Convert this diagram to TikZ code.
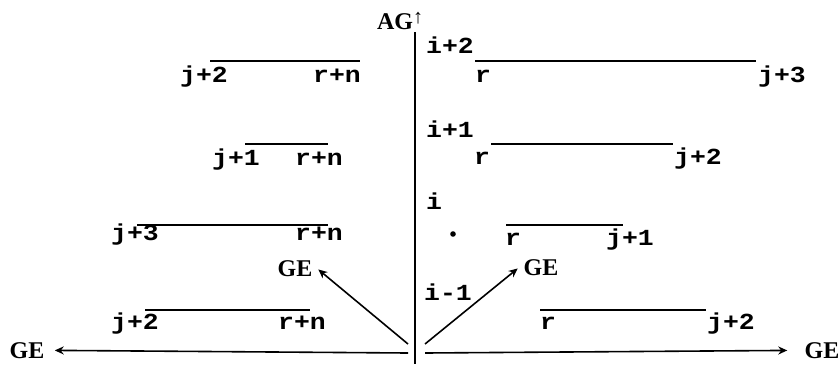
\documentclass[tikz,border=0pt]{standalone}
\usepackage{fontspec}
\newfontfamily\tyfont[FakeStretch=1.15]{Liberation Mono}
\newfontfamily\gefont{Liberation Serif}
\usetikzlibrary{arrows.meta}

\begin{document}
\begin{tikzpicture}[
        x=0.5pt, y=-0.5pt,
        lbl/.style={font=\tyfont\bfseries\fontsize{11.5}{13}\selectfont, inner sep=0pt, anchor=base},
        axlbl/.style={font=\gefont\bfseries\fontsize{12}{13}\selectfont, inner sep=2pt, anchor=base},
        bar/.style={line width=0.75pt},
        axis/.style={line width=0.9pt},
        tip/.style={arrows=-{Stealth[length=4.5pt, width=4pt]}, line width=0.8pt}
        ]
        \useasboundingbox (0,0) rectangle (838,364);

        % axes
        \node (ag)   [axlbl] at (400,29)  {AG\raisebox{0.25em}{\fontsize{10}{10}\selectfont ↑}};
        \node (geW)  [axlbl] at (27,358)  {GE};
        \node (geE)  [axlbl] at (822,358) {GE};
        \node (geNW) [axlbl] at (295,276) {GE};
        \node (geNE) [axlbl] at (541,275) {GE};
        \coordinate (top) at (415,32);
        \coordinate (bot) at (415,364);
        \coordinate (oW)  at (408,353);
        \coordinate (oE)  at (425,353);
        \coordinate (dW)  at (408,344);
        \coordinate (dE)  at (425,344);

        \draw [axis] (top) -- (bot);
        \draw [tip, shorten >=3pt] (oW) -- (geW);
        \draw [tip, shorten >=6.5pt] (oE) -- (geE);
        \draw [tip, shorten >=1pt] (dW) -- (geNW.east);
        \draw [tip, shorten >=1pt] (dE) -- (geNE.west);

        % levels on the axis
        \node (i2)  [lbl] at (450,53)  {i+2};
        \node (i1)  [lbl] at (450,137) {i+1};
        \node (i0)  [lbl] at (434,209) {i};
        \node (im1) [lbl] at (448,300) {i-1};
        \fill (453,234) circle (2.8);

        % left side
        \node (lj1) [lbl] at (204,82)  {j+2};
        \node (lr1) [lbl] at (337,82)  {r+n};
        \node (lj2) [lbl] at (236,165) {j+1};
        \node (lr2) [lbl] at (319,165) {r+n};
        \node (lj3) [lbl] at (135,240) {j+3};
        \node (lr3) [lbl] at (319,240) {r+n};
        \node (lj4) [lbl] at (135,329) {j+2};
        \node (lr4) [lbl] at (302,329) {r+n};
        \draw [bar] (210,61)  -- (360,61);
        \draw [bar] (245,144) -- (328,144);
        \draw [bar] (137,225) -- (328,225);
        \draw [bar] (145,310) -- (310,310);

        % right side
        \node (rr1) [lbl] at (483,82)  {r};
        \node (rj1) [lbl] at (782,82)  {j+3};
        \node (rr2) [lbl] at (482,164) {r};
        \node (rj2) [lbl] at (698,164) {j+2};
        \node (rr3) [lbl] at (513,245) {r};
        \node (rj3) [lbl] at (630,245) {j+1};
        \node (rr4) [lbl] at (548,329) {r};
        \node (rj4) [lbl] at (731,329) {j+2};
        \draw [bar] (475,61)  -- (756,61);
        \draw [bar] (491,144) -- (673,144);
        \draw [bar] (506,225) -- (623,225);
        \draw [bar] (540,310) -- (706,310);

    \end{tikzpicture}
\end{document}
